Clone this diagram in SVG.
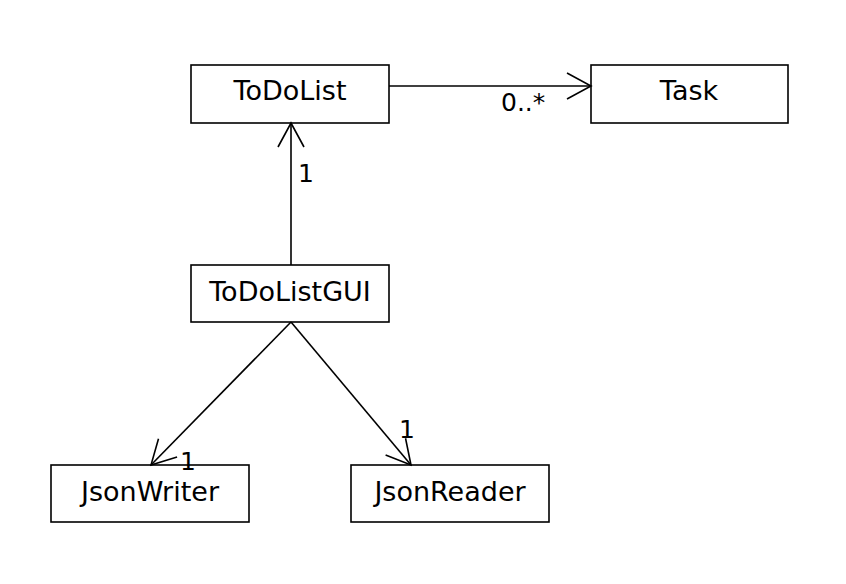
<svg xmlns="http://www.w3.org/2000/svg" width="846" height="584" viewBox="0 0 846 584">
<style>
.box{fill:#fff;stroke:#000;stroke-width:1.6}
.t{font-family:"DejaVu Sans",sans-serif;font-size:27px;text-anchor:middle;fill:#000}
.m{font-family:"DejaVu Sans",sans-serif;font-size:25px;fill:#000}
.c{fill:none;stroke:#000;stroke-width:1.6}
</style>
<defs>
<marker id="open" viewBox="-26 -14 28 28" markerWidth="28" markerHeight="28" refX="0" refY="0" orient="auto" markerUnits="userSpaceOnUse">
<path d="M-24,-13 L0,0 L-24,13" fill="none" stroke="#000" stroke-width="1.6"/>
</marker>
</defs>
<rect width="846" height="584" fill="#fff"/>
<g id="ToDoList"><rect class="box" x="191" y="65" width="198" height="58"/><text class="t" x="290" y="100">ToDoList</text></g>
<g id="Task"><rect class="box" x="591" y="65" width="197" height="58"/><text class="t" x="689" y="100">Task</text></g>
<g id="ToDoListGUI"><rect class="box" x="191" y="265" width="198" height="57"/><text class="t" x="290" y="301">ToDoListGUI</text></g>
<g id="JsonWriter"><rect class="box" x="51" y="465" width="198" height="57"/><text class="t" x="150" y="501">JsonWriter</text></g>
<g id="JsonReader"><rect class="box" x="351" y="465" width="198" height="57"/><text class="t" x="450" y="501">JsonReader</text></g>
<g id="connectors">
<line class="c" x1="389" y1="86" x2="591" y2="86" marker-end="url(#open)"/>
<line class="c" x1="291" y1="265" x2="291" y2="123" marker-end="url(#open)"/>
<line class="c" x1="291" y1="322" x2="151" y2="465" marker-end="url(#open)"/>
<line class="c" x1="291" y1="322" x2="411" y2="465" marker-end="url(#open)"/>
<text class="m" x="501" y="111">0..*</text>
<text class="m" x="298" y="182">1</text>
<text class="m" x="180" y="470">1</text>
<text class="m" x="399" y="438">1</text>
</g>
</svg>
